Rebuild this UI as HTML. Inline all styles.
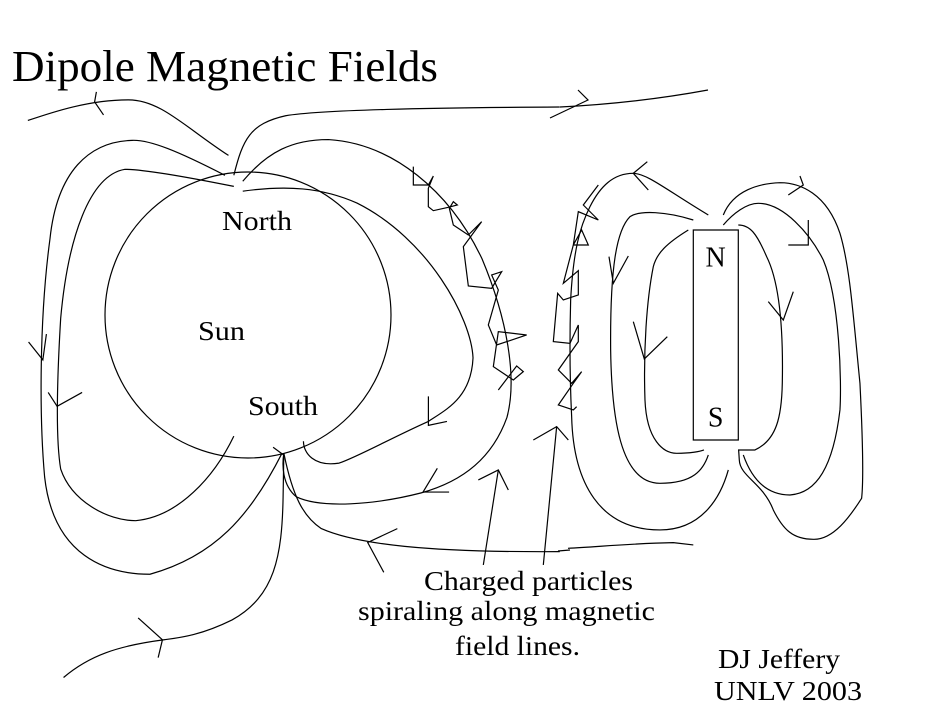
<!DOCTYPE html>
<html><head><meta charset="utf-8"><style>
html,body{margin:0;padding:0;background:#fff;}
svg{display:block}
text{font-family:"Liberation Serif",serif;fill:#000}
path,polyline,line{fill:none;stroke:#000;stroke-width:1.2;vector-effect:non-scaling-stroke}
</style></head><body>
<svg width="927" height="714" viewBox="0 0 927 714" xmlns="http://www.w3.org/2000/svg">
<rect width="927" height="714" fill="#fff"/>
<text x="12" y="81" font-size="44" textLength="426" lengthAdjust="spacingAndGlyphs">Dipole Magnetic Fields</text>
<text x="222" y="230" font-size="27" textLength="70" lengthAdjust="spacingAndGlyphs">North</text>
<text x="198" y="340" font-size="27" textLength="47" lengthAdjust="spacingAndGlyphs">Sun</text>
<text x="248" y="415" font-size="27" textLength="70" lengthAdjust="spacingAndGlyphs">South</text>
<text x="424" y="590" font-size="27" textLength="209" lengthAdjust="spacingAndGlyphs">Charged particles</text>
<text x="358" y="620" font-size="27" textLength="297" lengthAdjust="spacingAndGlyphs">spiraling along magnetic</text>
<text x="455" y="655" font-size="27" textLength="125" lengthAdjust="spacingAndGlyphs">field lines.</text>
<text x="718" y="668" font-size="27" textLength="122" lengthAdjust="spacingAndGlyphs">DJ Jeffery</text>
<text x="714" y="700" font-size="27" textLength="148" lengthAdjust="spacingAndGlyphs">UNLV 2003</text>
<ellipse cx="248" cy="315" rx="143" ry="143" fill="none" stroke="#000" stroke-width="1.2"/>
<path d="M560,107 C620,104 670,97 708,90"/>
<polyline points="550,118 588,100 578,90"/>
<line x1="558" y1="551" x2="570" y2="550"/>
<g transform="translate(0,80) scale(0.357,0.397)">
<path d="M78,102 C150,80 250,50 360,50 C450,50 520,120 640,190"/>
<polyline points="270,30 265,55 290,88"/>
<path d="M655,240 C680,150 700,110 800,90 C900,75 1200,70 1568,68"/>
<path d="M630,240 C500,180 420,150 370,152 C250,155 160,230 140,400 C110,600 110,850 125,1000 C150,1200 300,1245 420,1245 C600,1200 700,1100 790,940"/>
<path d="M655,268 C500,240 400,225 350,225 C250,240 190,400 170,600 C160,750 155,900 170,980 C200,1060 300,1110 380,1110 C500,1100 600,1000 655,897"/>
<polyline points="80,660 120,705 130,640"/>
<polyline points="135,787 160,822 230,787"/>
<path d="M680,255 C750,180 820,150 920,150 C1100,160 1260,280 1350,450 C1420,600 1450,750 1420,850 C1380,950 1300,1010 1180,1040 C1050,1070 900,1080 830,1050 C790,1020 790,970 795,940"/>
<path d="M680,280 C800,265 900,270 1000,310 C1200,400 1320,600 1325,700 C1320,800 1250,830 1200,860 C1100,900 1000,950 950,965 C880,975 850,940 850,910"/>
<polyline points="1200,797 1200,870 1252,860"/>
<polyline points="1225,978 1185,1038 1258,1038"/>
<path d="M795,940 C820,1050 850,1100 900,1130 C1000,1170 1200,1190 1568,1188"/>
<polyline points="1113,1130 1030,1165 1075,1240"/>
<path d="M795,940 L793,1050 C790,1200 770,1300 650,1360 C560,1400 500,1405 460,1410 C330,1425 250,1450 178,1505"/>
<polyline points="387,1355 455,1410 443,1455"/>
<line x1="765" y1="925" x2="795" y2="945"/>
</g>
<g transform="translate(400,150) scale(0.3333)">
<polyline points="40,50 40,105 85,105 100,78 85,115 85,170 100,182 145,172 172,165 160,155 148,175 160,225 205,255 245,215 190,290 205,408 275,415 305,365 275,375 295,420 265,525 290,585 380,555 295,545 280,650 340,690 370,665 350,648 295,720"/>
<polyline points="595,105 550,165 595,210 535,185 520,285 565,285 545,240 520,285 490,400 535,362 535,435 490,450 473,430 460,575 510,580 535,525 535,575 475,660 515,700 545,665 520,700 475,765 520,780 530,770"/>
<path d="M925,195 C800,120 740,70 700,70 C640,70 600,110 570,170 C540,230 520,300 512,450 C508,600 510,700 515,800 C520,1000 600,1140 780,1140 C900,1140 960,1050 985,960"/>
<path d="M880,210 C800,185 720,180 690,200 C650,240 630,350 632,600 C635,800 660,1000 780,1000 C880,1000 910,960 925,915"/>
<path d="M865,240 C800,280 770,310 760,350 C740,450 730,600 735,750 C740,870 790,910 830,910 C870,910 900,905 912,900"/>
<path d="M970,195 C1000,120 1080,100 1140,98 C1200,98 1280,130 1320,250 C1350,350 1360,500 1380,700 C1390,900 1390,1000 1385,1045 C1350,1100 1300,1170 1240,1168 C1180,1168 1150,1140 1120,1080 C1090,1000 1020,980 1018,930 L1016,900 L1065,900 C1130,870 1145,800 1147,700 C1150,550 1140,400 1100,320 C1070,250 1050,225 1015,225"/>
<path d="M970,225 C1000,190 1040,160 1075,160 C1150,160 1230,250 1270,330 C1320,450 1325,700 1320,780 C1300,950 1250,1030 1170,1035 C1110,1035 1060,1000 1030,915"/>
<rect x="880" y="240" width="135" height="630" fill="none" stroke="#000" stroke-width="1.2" vector-effect="non-scaling-stroke"/>
<text x="947" y="350" font-size="84" text-anchor="middle">N</text>
<text x="947" y="830" font-size="84" text-anchor="middle">S</text>
<polyline points="742,35 700,70 745,120"/>
<polyline points="1200,78 1210,105 1165,135"/>
<polyline points="1225,210 1225,285 1165,285"/>
<polyline points="627,320 640,400 685,318"/>
<polyline points="700,515 733,627 802,560"/>
<polyline points="1105,455 1150,510 1180,425"/>
<line x1="250" y1="1245" x2="295" y2="960"/>
<polyline points="235,990 295,960 325,1020"/>
<line x1="430" y1="1245" x2="470" y2="830"/>
<polyline points="400,870 470,830 505,870"/>
<path d="M504,1195 C600,1190 700,1180 820,1178 L880,1185"/>
</g>
</svg>
</body></html>
